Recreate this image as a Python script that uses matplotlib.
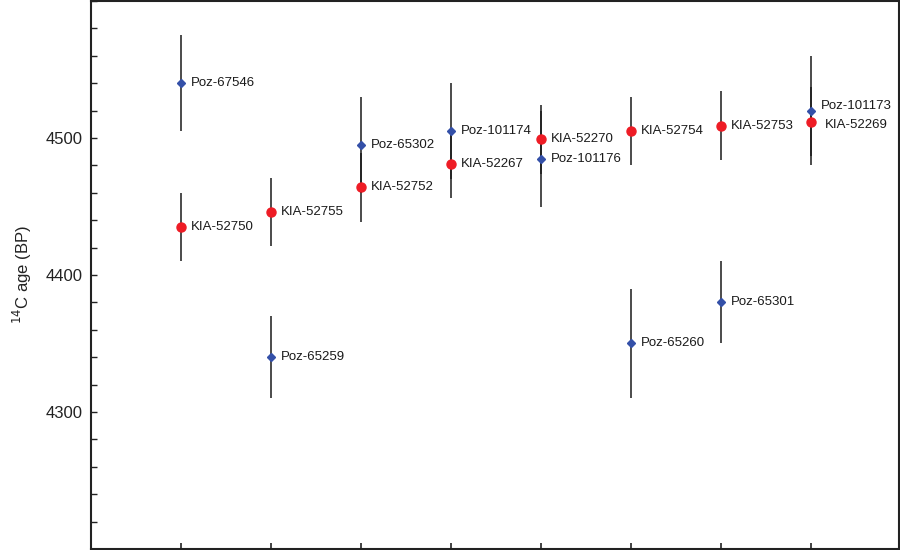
import matplotlib
matplotlib.use("Agg")
import matplotlib.pyplot as plt
from matplotlib.ticker import MultipleLocator, FixedLocator

plt.rcParams['font.family'] = ['Liberation Sans', 'DejaVu Sans']

# Poz samples (blue diamonds)
poz_x = [1, 2, 3, 4, 5, 6, 7, 8]
poz_age = [4540, 4340, 4495, 4505, 4485, 4350, 4380, 4520]
poz_err = [35, 30, 35, 35, 35, 40, 30, 40]
poz_lab = ['Poz-67546', 'Poz-65259', 'Poz-65302', 'Poz-101174',
           'Poz-101176', 'Poz-65260', 'Poz-65301', 'Poz-101173']

# KIA samples (red circles)
kia_x = [1, 2, 3, 4, 5, 6, 7, 8]
kia_age = [4435, 4446, 4464, 4481, 4499, 4505, 4509, 4512]
kia_err = [25, 25, 25, 25, 25, 25, 25, 25]
kia_lab = ['KIA-52750', 'KIA-52755', 'KIA-52752', 'KIA-52267',
           'KIA-52270', 'KIA-52754', 'KIA-52753', 'KIA-52269']

fig = plt.figure(figsize=(9, 5.5), dpi=100)
ax = fig.add_axes([0.101, 0.002, 0.898, 0.996])

ax.errorbar(poz_x, poz_age, yerr=poz_err, fmt='none', ecolor='#1a1a1a',
            elinewidth=1.1, capsize=0, zorder=1)
ax.errorbar(kia_x, kia_age, yerr=kia_err, fmt='none', ecolor='#1a1a1a',
            elinewidth=1.1, capsize=0, zorder=1)
ax.plot(poz_x, poz_age, 'D', color='#3450a8', markersize=4.4, linestyle='none', zorder=3)
ax.plot(kia_x, kia_age, 'o', color='#ee1c25', markersize=6.5, linestyle='none', zorder=3)

for x, y, t in zip(poz_x, poz_age, poz_lab):
    dy = 3 if x == 8 else 0
    ax.annotate(t, (x, y), xytext=(7, dy), textcoords='offset points',
                va='center', ha='left', fontsize=9.5, color='#1a1a1a')
for x, y, t in zip(kia_x, kia_age, kia_lab):
    dx = 10 if x == 8 else 7
    dy = -2.5 if x == 8 else 0
    ax.annotate(t, (x, y), xytext=(dx, dy), textcoords='offset points',
                va='center', ha='left', fontsize=9.5, color='#1a1a1a')

ax.set_xlim(0, 8.98)
ax.set_ylim(4200, 4600)
ax.yaxis.set_major_locator(FixedLocator([4300, 4400, 4500]))
ax.yaxis.set_minor_locator(MultipleLocator(20))
ax.xaxis.set_major_locator(FixedLocator(poz_x))
ax.set_xticklabels([])
ax.tick_params(axis='both', which='both', direction='in', color='#222222')
ax.tick_params(axis='y', which='major', length=4, width=1, labelsize=12, pad=6,
               labelcolor='#222222')
ax.tick_params(axis='y', which='minor', length=4, width=1)
ax.tick_params(axis='x', which='major', length=4, width=1.2)
for s in ax.spines.values():
    s.set_linewidth(1.5)
    s.set_color('#222222')

ax.set_ylabel('$^{14}$C age (BP)', fontsize=12, labelpad=8, color='#222222')

fig.savefig('out.png', dpi=100)
